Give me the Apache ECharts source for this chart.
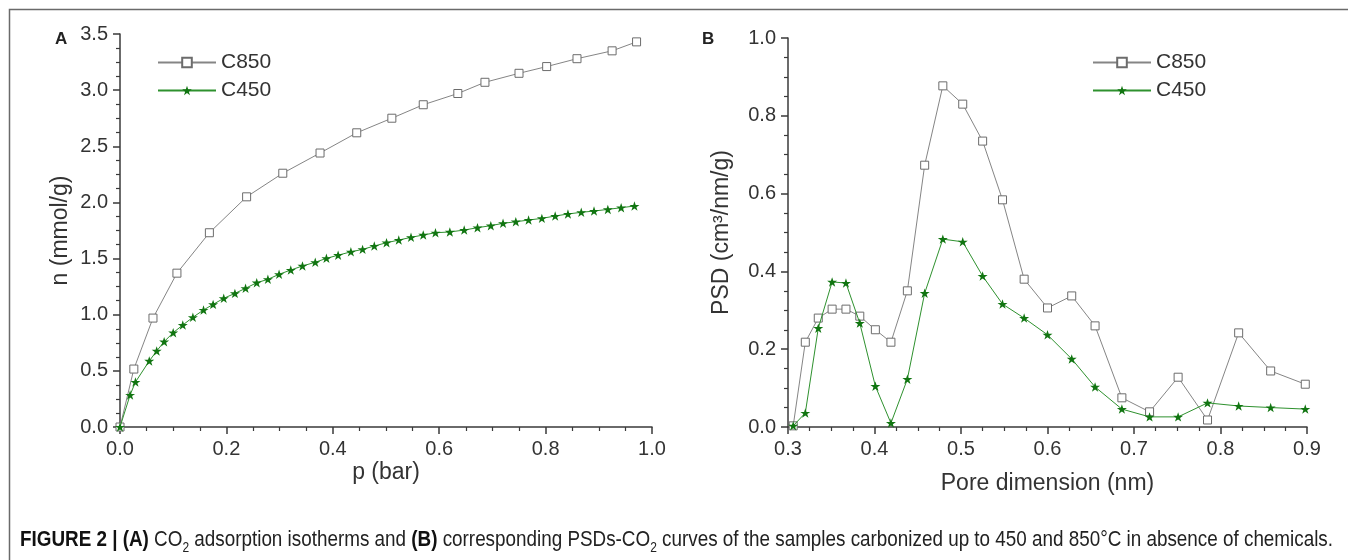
<!DOCTYPE html>
<html>
<head>
<meta charset="utf-8">
<script src="https://cdn.jsdelivr.net/npm/echarts@6/dist/echarts.min.js"></script>
<style>
  html, body { margin: 0; padding: 0; background: #fff; }
  #chart { width: 1348px; height: 560px; }
</style>
</head>
<body>
<div id="chart"></div>
<script>
// (A) CO2 adsorption isotherms: pressure (bar) vs uptake (mmol/g)
const pressureC850 = [0, 0.026, 0.062, 0.107, 0.168, 0.238, 0.306, 0.376, 0.445, 0.511,
  0.570, 0.635, 0.686, 0.750, 0.802, 0.859, 0.925, 0.971];
const uptakeC850 = [0, 0.516, 0.97, 1.37, 1.73, 2.05, 2.26, 2.44, 2.62, 2.75,
  2.87, 2.97, 3.07, 3.15, 3.21, 3.28, 3.35, 3.43];

const pressureC450 = [0, 0.019, 0.029, 0.055, 0.069, 0.083, 0.100, 0.118, 0.137, 0.157,
  0.175, 0.195, 0.216, 0.236, 0.257, 0.278, 0.299, 0.321, 0.343, 0.367,
  0.388, 0.410, 0.434, 0.456, 0.478, 0.501, 0.524, 0.547, 0.570, 0.593,
  0.620, 0.647, 0.672, 0.697, 0.720, 0.744, 0.768, 0.793, 0.818, 0.842,
  0.867, 0.891, 0.917, 0.942, 0.967];
const uptakeC450 = [0, 0.285, 0.40, 0.588, 0.677, 0.76, 0.84, 0.908, 0.977, 1.042,
  1.092, 1.146, 1.19, 1.235, 1.285, 1.315, 1.36, 1.398, 1.434, 1.467,
  1.502, 1.53, 1.56, 1.582, 1.612, 1.641, 1.665, 1.689, 1.71, 1.73,
  1.737, 1.754, 1.775, 1.793, 1.814, 1.828, 1.843, 1.858, 1.879, 1.897,
  1.912, 1.923, 1.938, 1.953, 1.968];

// (B) pore size distributions: pore dimension (nm) vs PSD (cm3/nm/g)
const poreDimension = [0.306, 0.320, 0.335, 0.351, 0.367, 0.383, 0.401, 0.419, 0.438, 0.458,
  0.479, 0.502, 0.525, 0.548, 0.573, 0.600, 0.628, 0.655, 0.686, 0.718,
  0.751, 0.785, 0.821, 0.858, 0.898];
const psdC850 = [0.003, 0.218, 0.28, 0.303, 0.303, 0.285, 0.25, 0.218, 0.35, 0.673,
  0.877, 0.83, 0.735, 0.584, 0.38, 0.306, 0.337, 0.26, 0.075, 0.039,
  0.128, 0.018, 0.242, 0.144, 0.11];
const psdC450 = [0.003, 0.036, 0.254, 0.373, 0.37, 0.267, 0.105, 0.01, 0.123, 0.344,
  0.483, 0.476, 0.388, 0.316, 0.28, 0.237, 0.175, 0.103, 0.046, 0.026,
  0.026, 0.062, 0.054, 0.05, 0.046];

const seriesNames = ['C850', 'C450'];

const FONT = '"Liberation Sans", Arial, Helvetica, sans-serif';
const AXIS_COLOR = '#3a3a3a';
const STAR = 'path://M50,0L61.8,35.1L98.5,35.1L68.8,56.8L80.2,91.9L50,70.2L19.8,91.9L31.2,56.8L1.5,35.1L38.2,35.1Z';

const pairs = (xs, ys) => xs.map((x, i) => [x, ys[i]]);

function valueAxis(extra) {
  return Object.assign({
    type: 'value',
    scale: false,
    splitLine: { show: false },
    axisLine: { show: true, onZero: false, lineStyle: { color: AXIS_COLOR, width: 1.5 } },
    axisTick: { show: true, inside: false, length: 7, lineStyle: { color: AXIS_COLOR, width: 1.5 } },
    minorTick: { show: true, splitNumber: 4, length: 4, lineStyle: { color: AXIS_COLOR, width: 1.2 } },
    axisLabel: {
      show: true, color: '#333', fontSize: 20, fontFamily: FONT, margin: 12,
      showMinLabel: true, showMaxLabel: true, hideOverlap: false,
      formatter: v => v.toFixed(1)
    },
    nameLocation: 'middle',
    nameMoveOverlap: false,
    nameTextStyle: { color: '#333', fontSize: 23, fontFamily: FONT }
  }, extra);
}

const squareStyle = {
  symbol: 'rect', symbolSize: 8,
  itemStyle: { color: '#ffffff', borderColor: '#6c6c6c', borderWidth: 1 },
  lineStyle: { color: '#858585', width: 1 }
};
const starStyle = {
  symbol: STAR, symbolSize: 10, symbolKeepAspect: true,
  itemStyle: { color: '#117511' },
  lineStyle: { color: '#2e912e', width: 1 }
};

function lineSeries(name, data, idx, style) {
  return Object.assign({
    type: 'line', name, data,
    xAxisIndex: idx, yAxisIndex: idx,
    showSymbol: true, showAllSymbol: true,
    clip: false, z: name === 'C450' ? 3 : 2,
    emphasis: { disabled: true }
  }, style);
}

function legendAt(left) {
  return {
    data: seriesNames, orient: 'vertical', left, top: 47,
    itemWidth: 58, itemHeight: 12, itemGap: 7,
    selectedMode: false,
    textStyle: { fontSize: 21, color: '#333', fontFamily: FONT }
  };
}

const chart = echarts.init(document.getElementById('chart'), null, { renderer: 'canvas' });

chart.setOption({
  animation: false,
  backgroundColor: '#ffffff',
  grid: [
    { left: 120, top: 34, width: 532, height: 393, containLabel: false },
    { left: 788, top: 38, width: 519, height: 389, containLabel: false }
  ],
  xAxis: [
    valueAxis({ gridIndex: 0, min: 0, max: 1, interval: 0.2, name: 'p (bar)', nameGap: 34 }),
    valueAxis({ gridIndex: 1, min: 0.3, max: 0.9, interval: 0.1, name: 'Pore dimension (nm)', nameGap: 45 })
  ],
  yAxis: [
    valueAxis({ gridIndex: 0, min: 0, max: 3.5, interval: 0.5, name: 'n (mmol/g)', nameGap: 48 }),
    valueAxis({ gridIndex: 1, min: 0, max: 1, interval: 0.2, name: 'PSD (cm³/nm/g)', nameGap: 55 })
  ],
  legend: [legendAt(152), legendAt(1087)],
  series: [
    lineSeries('C850', pairs(pressureC850, uptakeC850), 0, squareStyle),
    lineSeries('C450', pairs(pressureC450, uptakeC450), 0, starStyle),
    lineSeries('C850', pairs(poreDimension, psdC850), 1, squareStyle),
    lineSeries('C450', pairs(poreDimension, psdC450), 1, starStyle)
  ],
  graphic: [
    // figure frame
    {
      type: 'polyline', silent: true,
      shape: { points: [[9.5, 560], [9.5, 9.5], [1348, 9.5]] },
      style: { stroke: '#6a6a6a', lineWidth: 1.5, fill: null }
    },
    // panel letters
    {
      type: 'text', left: 55, top: 31, silent: true,
      style: { text: 'A', font: 'bold 17px ' + FONT, fill: '#222' }
    },
    {
      type: 'text', left: 702, top: 31, silent: true,
      style: { text: 'B', font: 'bold 17px ' + FONT, fill: '#222' }
    },
    // caption, set in a condensed width
    {
      type: 'text', x: 20, y: 529, scaleX: 0.857, scaleY: 1, silent: true,
      style: {
        x: 0, y: 0,
        text: '{b|FIGURE 2 | (A)} CO{s|2} adsorption isotherms and {b|(B)} corresponding PSDs-CO{s|2} curves of the samples carbonized up to 450 and 850°C in absence of chemicals.',
        font: '22px ' + FONT,
        fill: '#222',
        rich: {
          b: { fontFamily: FONT, fontSize: 22, fontWeight: 'bold', fill: '#111' },
          s: { fontFamily: FONT, fontSize: 14, fill: '#222', verticalAlign: 'bottom', padding: [0, 0, -4, 0] }
        }
      }
    }
  ]
});
</script>
</body>
</html>
